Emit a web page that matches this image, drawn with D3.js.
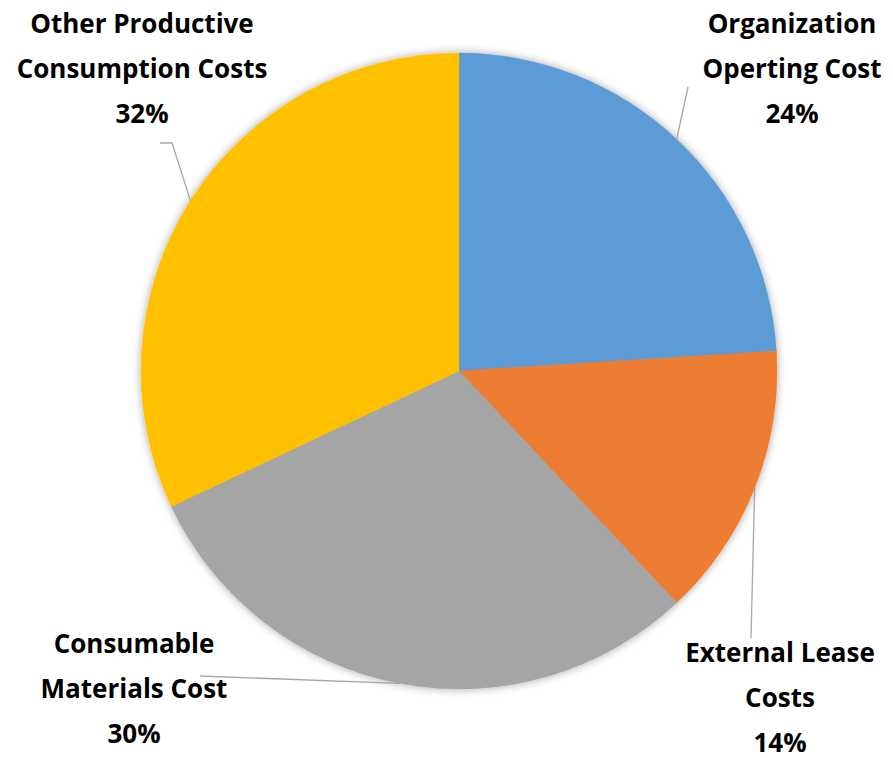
<!DOCTYPE html>
<html>
<head>
<meta charset="utf-8">
<script src="https://cdn.jsdelivr.net/npm/d3@7"></script>
<style>
  html, body { margin: 0; padding: 0; background: #ffffff; }
  svg { display: block; }
</style>
</head>
<body>
<div id="chart"></div>
<script>
// Cost structure shares (percent), clockwise from 12 o'clock
const categories = [
  "Organization Operting Cost",
  "External Lease Costs",
  "Consumable Materials Cost",
  "Other Productive Consumption Costs"
];
const values = [24, 14, 30, 32];
const labelLines = [
  ["Organization", "Operting Cost"],
  ["External Lease", "Costs"],
  ["Consumable", "Materials Cost"],
  ["Other Productive", "Consumption Costs"]
];
const colors = ["#5B9BD5", "#ED7D31", "#A5A5A5", "#FFC000"];

const width = 893, height = 758;
const cx = 459, cy = 371, radius = 318;

// Label block placement: centre x, first baseline y, and the leader path end
const labelLayout = [
  { x: 792, y: 33,  end: [[688, 87]] },
  { x: 780, y: 662, end: [[751, 638]] },
  { x: 134, y: 653, end: [[200, 676]] },
  { x: 142, y: 33,  end: [[172, 143], [160, 143]] }
];
const lineGap = 45;

const svg = d3.select("#chart").append("svg")
  .attr("width", width)
  .attr("height", height);

const defs = svg.append("defs");
const shadow = defs.append("filter")
  .attr("id", "pieShadow")
  .attr("x", "-10%").attr("y", "-10%")
  .attr("width", "120%").attr("height", "120%");
shadow.append("feDropShadow")
  .attr("dx", 0).attr("dy", 0)
  .attr("stdDeviation", 4)
  .attr("flood-color", "#000000")
  .attr("flood-opacity", 0.35);

const pie = d3.pie().sort(null).value(d => d)(values);
const arc = d3.arc().innerRadius(0).outerRadius(radius);

const g = svg.append("g").attr("transform", `translate(${cx},${cy})`);

g.append("g")
  .attr("filter", "url(#pieShadow)")
  .selectAll("path")
  .data(pie)
  .join("path")
  .attr("d", arc)
  .attr("fill", (d, i) => colors[i])
  .attr("stroke", (d, i) => colors[i])
  .attr("stroke-width", 0.5);

// Leader lines from the slice's outer edge (mid-angle) to its label
const line = d3.line();
svg.append("g")
  .selectAll("path")
  .data(pie)
  .join("path")
  .attr("d", (d, i) => {
    const mid = (d.startAngle + d.endAngle) / 2;
    const start = [cx + radius * Math.sin(mid), cy - radius * Math.cos(mid)];
    return line([start, ...labelLayout[i].end]);
  })
  .attr("fill", "none")
  .attr("stroke", "#A6A6A6")
  .attr("stroke-width", 1.3);

// Category + percentage labels
const labels = svg.append("g")
  .attr("font-family", "'Open Sans', 'Noto Sans', sans-serif")
  .attr("font-weight", 700)
  .attr("font-size", 26)
  .attr("fill", "#000000")
  .attr("text-anchor", "middle");

pie.forEach((d, i) => {
  const lay = labelLayout[i];
  const lines = [...labelLines[i], d3.format(".0f")(d.data) + "%"];
  const t = labels.append("text");
  lines.forEach((s, k) => {
    t.append("tspan")
      .attr("x", lay.x)
      .attr("y", lay.y + k * lineGap)
      .text(s);
  });
});
</script>
</body>
</html>
